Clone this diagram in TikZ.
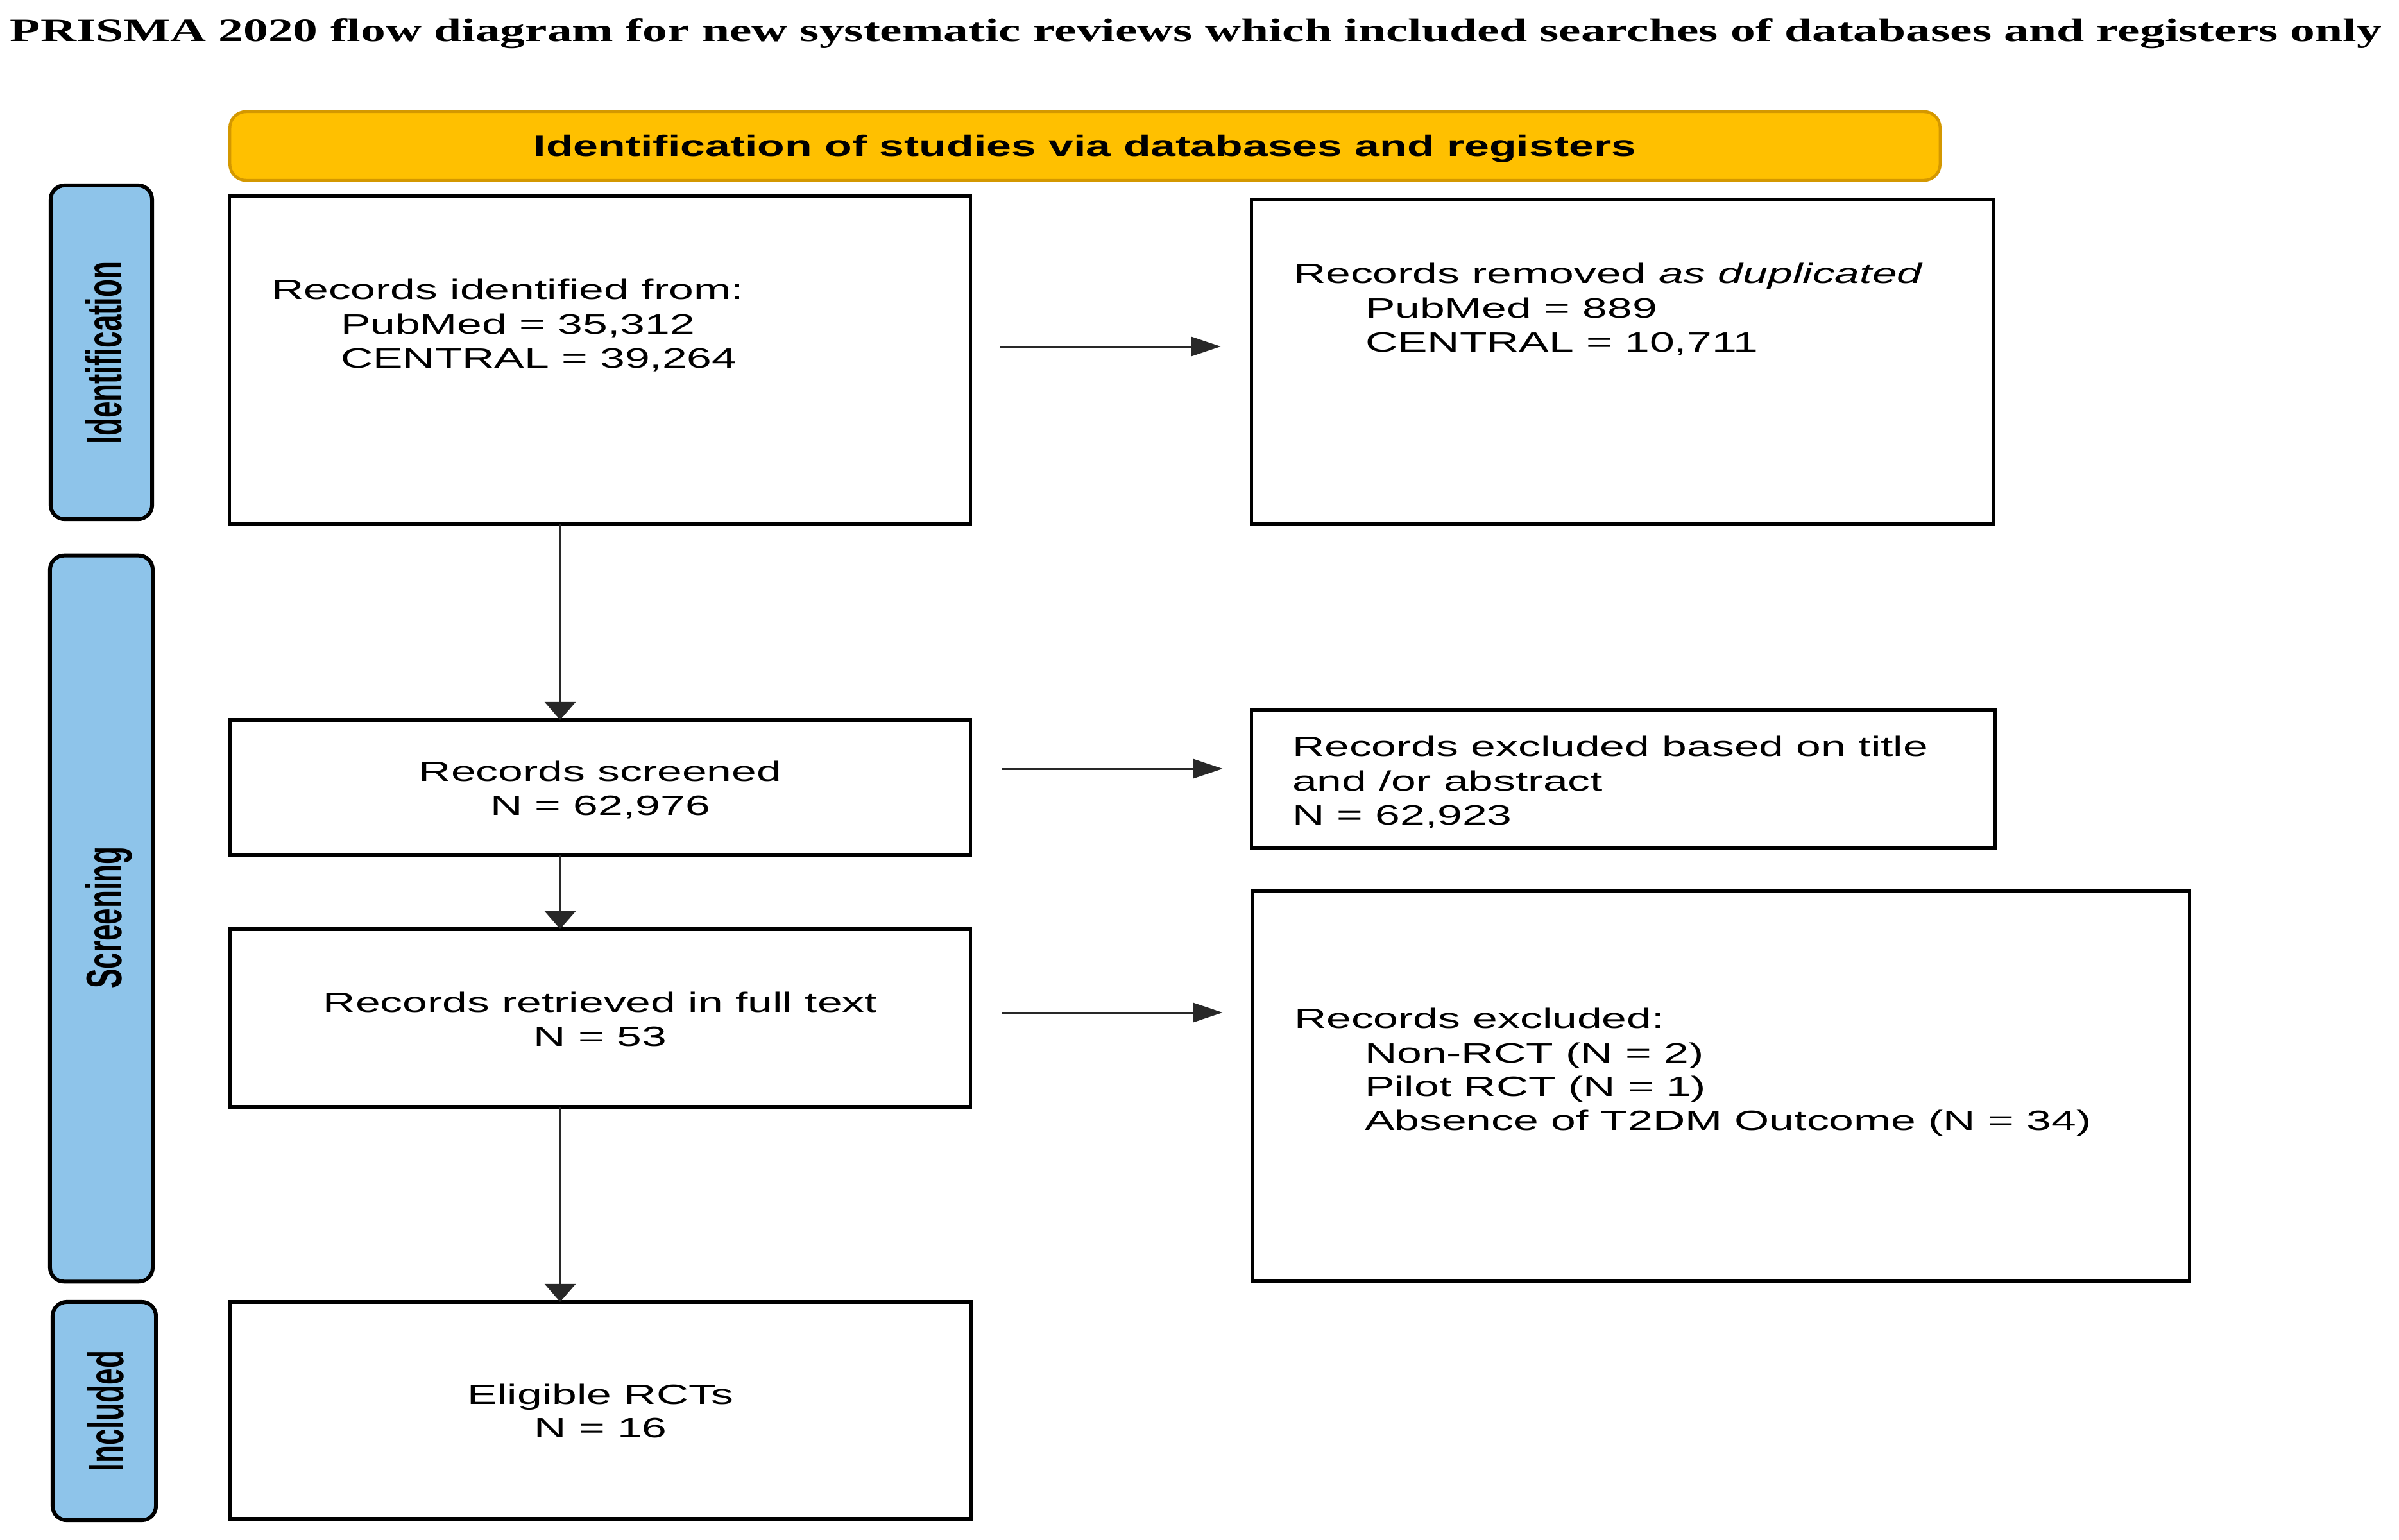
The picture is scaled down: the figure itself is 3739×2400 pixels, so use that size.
\documentclass[tikz,border=0pt]{standalone}
\usepackage{fontspec}
\usetikzlibrary{arrows.meta}
\newfontfamily\bodyfont[FakeStretch=1.6]{Liberation Sans}
\newfontfamily\headfont[FakeStretch=1.52]{Liberation Sans}
\newfontfamily\sidefont[FakeStretch=0.587]{Liberation Sans}
\newfontfamily\titlefont[FakeStretch=1.52]{Liberation Serif}
\definecolor{hdrfill}{RGB}{255,192,0}
\definecolor{hdrline}{RGB}{212,152,0}
\definecolor{sidefill}{RGB}{142,196,234}
\definecolor{arrowcol}{RGB}{40,40,40}
\tikzset{
  box/.style={draw=black, line width=0.055cm, rectangle, inner sep=0pt, outer sep=0pt, fill=white},
  sidebar/.style={draw=black, line width=0.06cm, rectangle, rounded corners=0.22cm, fill=sidefill, inner sep=0pt, outer sep=0pt},
  hdrbar/.style={draw=hdrline, line width=0.045cm, rectangle, rounded corners=0.25cm, fill=hdrfill, inner sep=0pt, outer sep=0pt},
  txt/.style={inner sep=0pt, outer sep=0pt, anchor=base west, font=\bodyfont\fontsize{12.38pt}{15pt}\selectfont},
  ctxt/.style={txt, anchor=base},
  sidetxt/.style={inner sep=0pt, outer sep=0pt, anchor=base, rotate=90, font=\sidefont\bfseries\fontsize{22.2pt}{26pt}\selectfont},
  varrow/.style={draw=arrowcol, line width=0.03cm, -{Triangle[length=0.28cm, width=0.48cm]}},
  harrow/.style={draw=arrowcol, line width=0.03cm, -{Triangle[length=0.46cm, width=0.30cm]}}
}
\begin{document}
\begin{tikzpicture}[x=0.01cm, y=-0.01cm]
\useasboundingbox (0,0) rectangle (3739,2400);
% title
\node[inner sep=0pt, anchor=base west, font=\titlefont\bfseries\fontsize{14.5pt}{17pt}\selectfont] (title) at (15,65) {PRISMA 2020 flow diagram for new systematic reviews which included searches of databases and registers only};
% header bar
\node[hdrbar, minimum width=26.64cm, minimum height=1.07cm] (hdr) at (1691,227.5) {};
\node[inner sep=0pt, anchor=base, font=\headfont\bfseries\fontsize{13.06pt}{15pt}\selectfont] (hdrtxt) at (1691,243) {Identification of studies via databases and registers};
% side bars
\node[sidebar, minimum width=1.58cm, minimum height=5.20cm] (s1) at (158,549) {};
\node[sidebar, minimum width=1.60cm, minimum height=11.31cm] (s2) at (158,1431.5) {};
\node[sidebar, minimum width=1.61cm, minimum height=3.40cm] (s3) at (162.5,2199) {};
\node[sidetxt] (s1t) at (189,550) {Identification};
\node[sidetxt] (s2t) at (189,1430) {Screening};
\node[sidetxt] (s3t) at (192,2199) {Included};
% boxes
\node[box, minimum width=11.54cm, minimum height=5.12cm] (b1) at (935,561) {};
\node[box, minimum width=11.55cm, minimum height=5.05cm] (b2) at (2528.5,563.5) {};
\node[box, minimum width=11.53cm, minimum height=2.10cm] (b3) at (935.5,1227) {};
\node[box, minimum width=11.58cm, minimum height=2.14cm] (b4) at (2530,1214) {};
\node[box, minimum width=11.53cm, minimum height=2.77cm] (b5) at (935.5,1586.5) {};
\node[box, minimum width=14.60cm, minimum height=6.08cm] (b6) at (2682,1693) {};
\node[box, minimum width=11.54cm, minimum height=3.38cm] (b7) at (936,2198) {};
% box texts
\node[txt] (b1l1) at (423,466) {Records identified from:};
\node[txt] (b1l2) at (531,520) {PubMed = 35,312};
\node[txt] (b1l3) at (531,573) {CENTRAL = 39,264};
\node[txt] (b2l1) at (2016,441) {Records removed \textit{as duplicated}};
\node[txt] (b2l2) at (2128,495) {PubMed = 889};
\node[txt] (b2l3) at (2128,548) {CENTRAL = 10,711};
\node[ctxt] (b3l1) at (935.5,1217) {Records screened};
\node[ctxt] (b3l2) at (935.5,1270) {N = 62,976};
\node[txt] (b4l1) at (2014,1178) {Records excluded based on title};
\node[txt] (b4l2) at (2014,1232) {and /or abstract};
\node[txt] (b4l3) at (2014,1285) {N = 62,923};
\node[ctxt] (b5l1) at (935.5,1577) {Records retrieved in full text};
\node[ctxt] (b5l2) at (935.5,1630) {N = 53};
\node[txt] (b6l1) at (2017,1602) {Records excluded:};
\node[txt] (b6l2) at (2127,1656) {Non-RCT (N = 2)};
\node[txt] (b6l3) at (2127,1708) {Pilot RCT (N = 1)};
\node[txt] (b6l4) at (2127,1761) {Absence of T2DM Outcome (N = 34)};
\node[ctxt] (b7l1) at (936,2188) {Eligible RCTs};
\node[ctxt] (b7l2) at (936,2240) {N = 16};
% connectors
\coordinate (vx) at (873,0);
\coordinate (h1) at (0,540);
\coordinate (h2) at (0,1198);
\coordinate (h3) at (0,1578);
\draw[varrow] (b1.south -| vx) -- (b3.north -| vx);
\draw[varrow] (b3.south -| vx) -- (b5.north -| vx);
\draw[varrow] (b5.south -| vx) -- (b7.north -| vx);
\draw[harrow, shorten <=0.46cm, shorten >=0.48cm] (b1.east |- h1) -- (b2.west |- h1);
\draw[harrow, shorten <=0.50cm, shorten >=0.45cm] (b3.east |- h2) -- (b4.west |- h2);
\draw[harrow, shorten <=0.50cm, shorten >=0.46cm] (b5.east |- h3) -- (b6.west |- h3);
\end{tikzpicture}
\end{document}
